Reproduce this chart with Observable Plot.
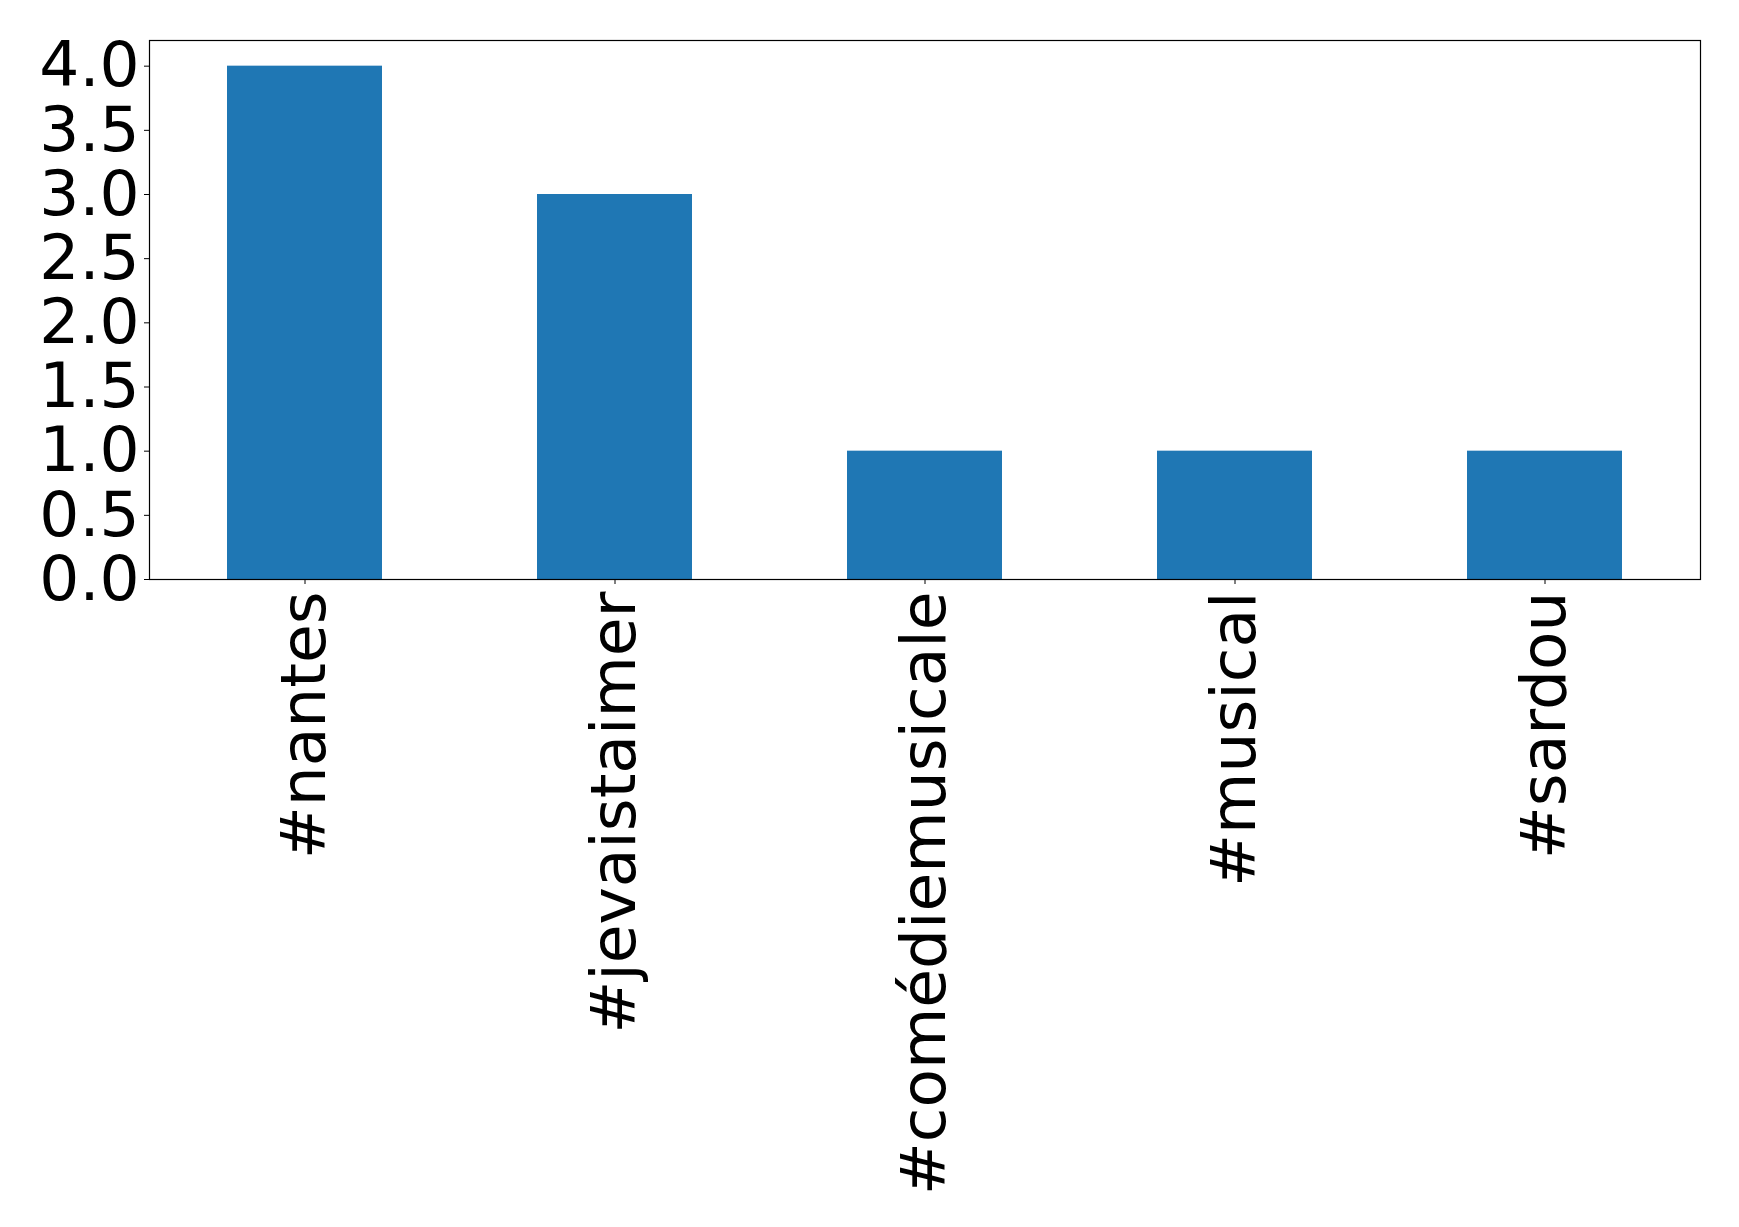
<!DOCTYPE html>
<html><head><meta charset="utf-8">
<script src="https://cdn.jsdelivr.net/npm/d3@7"></script>
<script src="https://cdn.jsdelivr.net/npm/@observablehq/plot@0.6"></script>
<style>body{margin:0;background:#fff}svg{display:block}</style>
</head><body><div id="chart"></div>
<script>
const categories = ["#nantes", "#jevaistaimer", "#comédiemusicale", "#musical", "#sardou"];
const counts = [4, 3, 1, 1, 1];
const yTicks = [0, 0.5, 1, 1.5, 2, 2.5, 3, 3.5, 4];
const data = categories.map((c, i) => ({tag: c, count: counts[i]}));

const chart = Plot.plot({
  width: 1739, height: 1227,
  marginLeft: 149, marginRight: 39, marginTop: 40, marginBottom: 648,
  style: {fontFamily: "DejaVu Sans", fontSize: "63px", background: "white", color: "black"},
  x: {domain: categories, paddingInner: 0.5, paddingOuter: 0.25},
  y: {domain: [0, 4.2]},
  marks: [
    Plot.barY(data, {x: "tag", y: "count", fill: "#1f77b4"}),
    Plot.axisY({ticks: yTicks, tickFormat: d3.format(".1f"), tickSize: 5, tickPadding: 5, fontSize: 63, label: null}),
    Plot.axisX({tickSize: 5, tickFormat: () => "", label: null}),
    Plot.text(data, {x: "tag", frameAnchor: "bottom", text: "tag", rotate: -90, textAnchor: "end", lineAnchor: "middle", dy: 12, fontSize: 63, fill: "black"}),
    Plot.frame({stroke: "black", strokeWidth: 1.2})
  ]
});
document.getElementById("chart").append(chart);
</script>
</body></html>
